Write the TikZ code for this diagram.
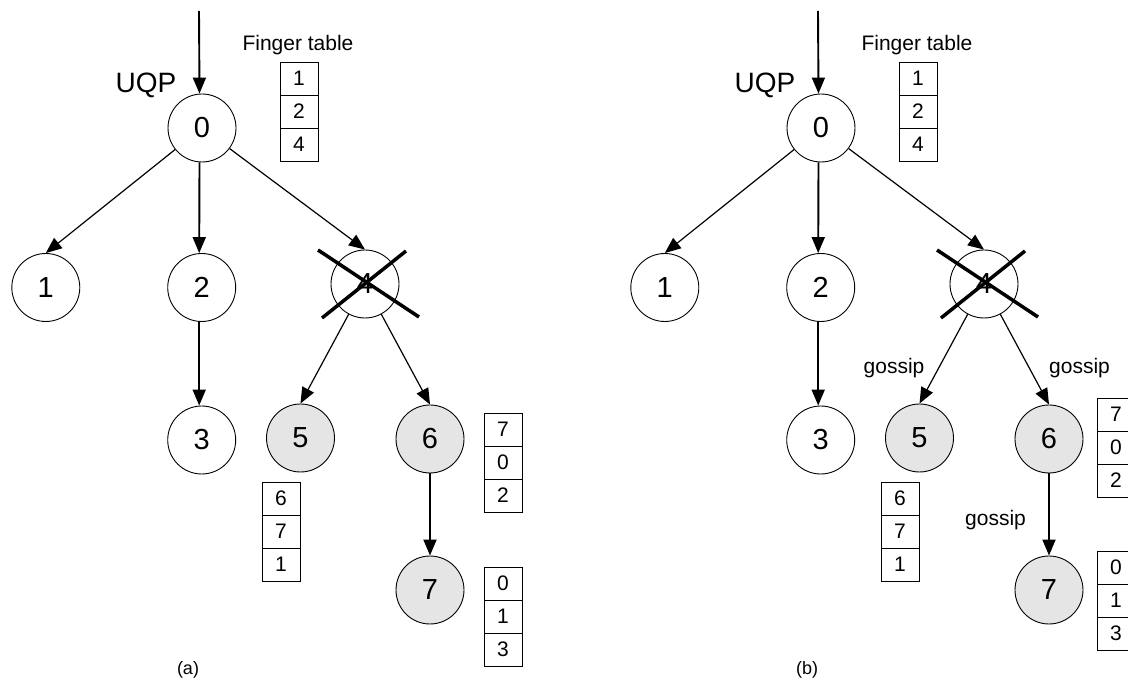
\documentclass[tikz,border=0pt]{standalone}
\usepackage{fontspec}
\setmainfont{Liberation Sans}
\usetikzlibrary{arrows.meta}
\tikzset{
  nd/.style={circle, draw, line width=0.9pt, minimum size=68pt, inner sep=0pt, font=\fontsize{29}{29}\selectfont},
  gnd/.style={nd, fill=gray!20},
  cell/.style={draw, line width=0.9pt, minimum width=38pt, minimum height=33pt, inner sep=0pt, outer sep=0pt, font=\fontsize{21}{21}\selectfont},
  lbl/.style={font=\fontsize{21}{21}\selectfont, inner sep=0pt},
  biglbl/.style={font=\fontsize{28}{28}\selectfont, inner sep=0pt},
  caplbl/.style={font=\fontsize{18}{18}\selectfont, inner sep=0pt},
  thickarrow/.style={line width=1.9pt, -{Triangle[length=16pt,width=13pt]}},
  thinarrow/.style={line width=1.2pt, -{Triangle[length=16pt,width=13pt]}},
  crossline/.style={line width=3.5pt},
}
% table: name, x centre, y top, three entries
\newcommand\ftab[6]{%
  \node[cell] (#1a) at (#2,#3+16.5) {#4};
  \node[cell] (#1b) at (#2,#3+49.5) {#5};
  \node[cell] (#1c) at (#2,#3+82.5) {#6};}
% panel: prefix, x offset, caption, table6/7 x centre, table6 top, table7 top
\newcommand\panel[6]{%
  \begin{scope}[xshift=#2pt]
    \node[nd]  (#1n0) at (202,128) {0};
    \node[nd]  (#1n1) at (45.8,287.5) {1};
    \node[nd]  (#1n2) at (201.7,287.5) {2};
    \node[nd]  (#1n3) at (201.7,440) {3};
    \node[nd]  (#1n4) at (365,284) {4};
    \node[gnd] (#1n5) at (300.5,438) {5};
    \node[gnd] (#1n6) at (430,439) {6};
    \node[gnd] (#1n7) at (430,590) {7};
    \node[biglbl] (#1uqp) at (146,85) {UQP};
    \node[lbl] (#1ft) at (298,45) {Finger table};
    \ftab{#1tz}{299}{62}{1}{2}{4}
    \ftab{#1tf}{281}{482}{6}{7}{1}
    \ftab{#1ts}{#4}{#5}{7}{0}{2}
    \ftab{#1tv}{#4}{#6}{0}{1}{3}
    \node[caplbl] (#1cap) at (188,670) {#3};
    \coordinate (#1top) at (199,11);
    \draw[thickarrow] (#1top) -- ([xshift=-2.5pt]#1n0.north);
    \draw[thinarrow] (#1n0) -- (#1n1.north);
    \draw[thickarrow] ([xshift=-2.5pt]#1n0.south) -- ([xshift=-2.5pt]#1n2.north);
    \draw[thinarrow] (#1n0) -- (#1n4.north);
    \draw[thickarrow] ([xshift=-2.5pt]#1n2.south) -- ([xshift=-2.5pt]#1n3.north);
    \draw[thinarrow] (#1n4) -- (#1n5.north);
    \draw[thinarrow] (#1n4) -- (#1n6.north);
    \draw[thickarrow] (#1n6) -- (#1n7);
    \draw[crossline] ([shift={(-47,-34)}]#1n4.center) -- ([shift={(54,33)}]#1n4.center);
    \draw[crossline] ([shift={(-43,34)}]#1n4.center) -- ([shift={(41,-33)}]#1n4.center);
  \end{scope}}
\begin{document}
\begin{tikzpicture}[x=1pt,y=-1pt]
  \useasboundingbox (0,0) rectangle (1128,684);
  \panel{a}{0}{(a)}{503}{413}{567}
  \panel{b}{619}{(b)}{497}{398}{551}
  \node[lbl] (g1) at (894,368) {gossip};
  \node[lbl] (g2) at (1079.5,368) {gossip};
  \node[lbl] (g3) at (995.5,519.6) {gossip};
\end{tikzpicture}
\end{document}
